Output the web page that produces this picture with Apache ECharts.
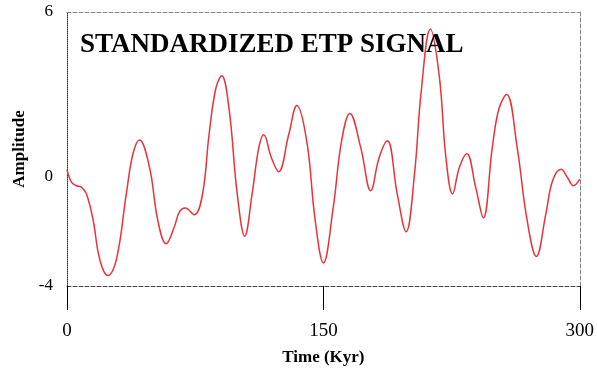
<!DOCTYPE html>
<html>
<head>
<meta charset="utf-8">
<script src="https://cdn.jsdelivr.net/npm/echarts@6/dist/echarts.min.js"></script>
<style>
  html, body { margin: 0; padding: 0; background: #fff; }
  #chart { width: 597px; height: 371px; }
</style>
</head>
<body>
<div id="chart"></div>
<script>
// Time in thousands of years
const timeKyr = [0, 2.7, 5.6, 8.5, 11.4, 15.3, 19.2, 24, 28.9, 34.7, 38.5, 42.4, 48.3, 53.1, 58,
  62.8, 65.7, 69.2, 74.5, 79.3, 83.1, 87, 90.5, 94.8, 99.6, 104, 108.3, 112.2, 115.1, 119.6,
  123.8, 129.7, 134.5, 140.3, 145.2, 150, 155.8, 160.6, 165.5, 171.9, 177.7, 182.6, 187.4, 193.2,
  198.4, 203.3, 207.2, 212.6, 217.8, 221.7, 225.6, 229.5, 233.9, 239.1, 243.6, 248.8, 252.7,
  257.2, 263.4, 269.2, 274.6, 280.2, 284.1, 289.1, 292.8, 296.3, 300];

// Standardized ETP amplitude
const amplitude = [0.25, -0.22, -0.34, -0.40, -0.64, -1.60, -3.04, -3.62, -3.04, -0.64, 0.80, 1.33,
  0.32, -1.60, -2.46, -1.84, -1.30, -1.15, -1.40, -0.64, 1.52, 3.19, 3.67, 2.47, -0.64, -2.18,
  -0.64, 1.04, 1.52, 0.68, 0.17, 1.52, 2.59, 1.28, -1.60, -3.16, -1.12, 1.28, 2.30, 1.04, -0.52,
  0.68, 1.30, -0.64, -2.02, 0.08, 3.08, 5.38, 3.67, 0.68, -0.64, 0.32, 0.83, -0.40, -1.51, 1.04,
  2.47, 2.99, 1.04, -1.60, -2.92, -1.36, -0.16, 0.26, -0.04, -0.34, -0.10];

const xTicks = [0, 150, 300];
const yTicks = [-4, 0, 6];

const serif = 'Liberation Serif';
const chart = echarts.init(document.getElementById('chart'), null, { renderer: 'canvas' });

chart.setOption({
  animation: false,
  backgroundColor: '#fff',
  title: {
    text: 'STANDARDIZED ETP SIGNAL',
    left: 80,
    top: 32,
    padding: 0,
    textStyle: { fontFamily: serif, fontWeight: 'bold', fontSize: 27, color: '#000' }
  },
  grid: { left: 67, right: 14, top: 12, bottom: 81, containLabel: false },
  xAxis: [
    {
      type: 'value',
      position: 'bottom',
      min: xTicks[0],
      max: xTicks[xTicks.length - 1],
      interval: 150,
      axisLine: { show: true, onZero: false, lineStyle: { color: '#444', type: 'dashed', width: 1 } },
      axisTick: { show: true, length: 24, lineStyle: { color: '#000', width: 1 } },
      splitLine: { show: false },
      axisLabel: { margin: 36, fontFamily: serif, fontSize: 19, color: '#000' },
      name: 'Time (Kyr)',
      nameLocation: 'middle',
      nameGap: 63,
      nameTextStyle: { fontFamily: serif, fontWeight: 'bold', fontSize: 17, color: '#000' }
    },
    {
      type: 'value',
      position: 'top',
      min: 0,
      max: 300,
      axisLine: { show: true, onZero: false, lineStyle: { color: '#888', type: 'dashed', width: 1 } },
      axisTick: { show: false },
      axisLabel: { show: false },
      splitLine: { show: false }
    }
  ],
  yAxis: [
    {
      type: 'value',
      position: 'left',
      min: yTicks[0],
      max: yTicks[yTicks.length - 1],
      axisLine: { show: true, onZero: false, lineStyle: { color: '#333', type: 'dotted', width: 1 } },
      axisTick: { show: false },
      splitLine: { show: false },
      axisLabel: {
        customValues: yTicks,
        margin: 14,
        fontFamily: serif,
        fontSize: 17,
        color: '#000'
      },
      name: 'Amplitude',
      nameLocation: 'middle',
      nameRotate: 90,
      nameGap: 34,
      nameTextStyle: { fontFamily: serif, fontWeight: 'bold', fontSize: 17, color: '#000' }
    },
    {
      type: 'value',
      position: 'right',
      min: -4,
      max: 6,
      axisLine: { show: true, onZero: false, lineStyle: { color: '#888', type: 'dashed', width: 1 } },
      axisTick: { show: false },
      axisLabel: { show: false },
      splitLine: { show: false }
    }
  ],
  series: [
    {
      type: 'line',
      xAxisIndex: 0,
      yAxisIndex: 0,
      data: timeKyr.map((t, i) => [t, amplitude[i]]),
      showSymbol: false,
      smooth: 0.4,
      lineStyle: { color: '#e8333b', width: 1.5 },
      clip: true
    }
  ]
});
</script>
</body>
</html>
